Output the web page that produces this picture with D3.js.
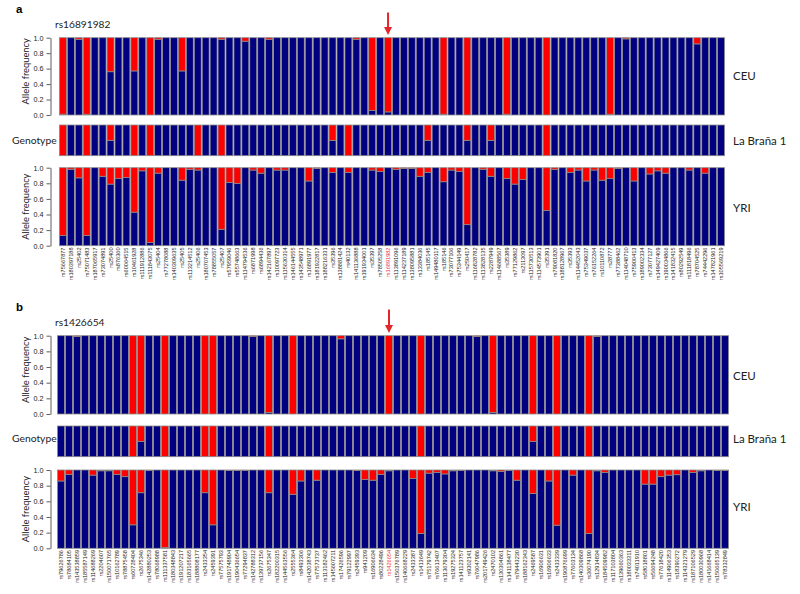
<!DOCTYPE html>
<html><head><meta charset="utf-8">
<script src="https://cdn.jsdelivr.net/npm/d3@7"></script>
<style>body{margin:0;background:#fff}svg{display:block}</style>
</head><body>
<script>
// ---------------- DATA ----------------
const labelsA = [
"rs75667877","rs180397188","rs25402","rs75071483","rs187065917","rs73074891","rs25400","rs876360","rs60064515","rs10461928",
"rs111912886","rs111843075","rs25404","rs77278088","rs140309635","rs25405","rs113214512","rs25406","rs180707453","rs78855057",
"rs25407","rs57959046","rs55748663","rs114794536","rs6871998","rs6894436","rs142167897","rs10097723","rs115630314","rs146144555",
"rs143548971","rs16891977","rs181922817","rs188216331","rs35396","rs138881424","rs40132","rs141136888","rs191934001","rs35397",
"rs78505258","rs16891982","rs113891096","rs114237189","rs138095881","rs13384036","rs185145","rs149480117","rs185146","rs73077106",
"rs75344149","rs250417","rs116828782","rs113828135","rs2287949","rs114688567","rs35389","rs77129862","rs2113097","rs115730513",
"rs114573901","rs35391","rs79081820","rs188128967","rs35393","rs114452043","rs75349037","rs76152264","rs10110872","rs28777",
"rs77388462","rs114048710","rs75900413","rs189002334","rs73077127","rs149427409","rs190034866","rs141832415","rs80292549","rs111818496",
"rs78704525","rs74442296","rs147821961","rs105569219"];
const ceuA = [
0.01,1,0.98,0.01,1,1,0.56,1,1,0.57,
1,0,0.98,1,1,0.57,1,1,1,1,
0.98,1,1,0.955,1,1,0.98,1,1,1,
1,1,1,1,1,1,1,0.98,1,0.06,
1,0.04,1,1,1,1,1,1,0.01,1,
1,0,1,1,1,1,0.01,1,1,1,
1,0,1,1,1,1,1,1,1,0.01,
1,0.985,1,1,1,1,1,1,1,1,
0.92,1,1,1];
const genoA = [
0,1,1,0,1,1,0.5,1,1,0,
1,0,1,1,1,1,1,0,1,1,
0,1,1,1,1,1,1,1,1,1,
1,1,1,1,0.5,1,0,1,1,1,
1,1,1,1,1,1,0.5,1,1,1,
1,0.5,1,1,0.5,1,1,1,1,1,
1,0,1,1,1,1,1,1,1,1,
1,1,1,1,1,1,1,1,1,1,
1,1,1,1];
const yriA = [
0.13,0.98,0.87,0.13,1,0.89,0.79,0.86,0.875,0.43,
0.96,0.04,0.93,1,1,0.84,0.98,0.97,1,1,
0.21,0.81,0.80,1,0.97,0.93,1,0.97,0.97,1,
1,0.83,0.99,1,0.94,1,0.94,1,1,0.97,
0.95,1,0.98,0.99,0.99,0.89,0.94,1,0.82,0.97,
0.95,0.27,1,0.98,0.89,1,0.86,0.79,0.85,1,
1,0.45,0.98,1,0.94,0.97,0.83,0.97,0.84,0.86,
0.99,1,0.83,1,0.92,0.96,0.93,1,1,0.97,
1,0.93,1,1];

const labelsB = [
"rs79626786","rs78684105","rs143538859","rs185587149","rs114688269","rs2204607","rs150071765","rs10162789","rs78875458","rs60728404",
"rs2675346","rs142880253","rs78068988","rs111337581","rs180348843","rs191207217","rs183165665","rs188808177","rs2433354","rs2459391",
"rs77575793","rs191748904","rs190436654","rs77294837","rs142788312","rs139737156","rs2675347","rs182200315","rs144563556","rs2555364",
"rs8493306","rs142038743","rs77573737","rs113182462","rs145607211","rs17426596","rs79122997","rs2459393","rs941209","rs16906634",
"rs80228496","rs1426654","rs150376789","rs140668229","rs2433387","rs1413649","rs75179742","rs76613407","rs113679304","rs19275324",
"rs141123757","rs9302141","rs76047986","rs201749426","rs2470102","rs130304861","rs141138477","rs79443230","rs188162343","rs2469587",
"rs16906631","rs16906633","rs2433339","rs190876699","rs77603134","rs140309868","rs36074190","rs12914834","rs184509982","rs117103804",
"rs139660363","rs180033311","rs74011910","rs58018801","rs56694248","rs77618420","rs114906353","rs18390272","rs114321279","rs187106529",
"rs180030968","rs141668414","rs150665139","rs78332849"];
const ceuB = [
1,1,0.99,1,1,1,1,1,1,0,
0,1,1,0,1,1,1,1,0,0,
1,1,1,1,0.99,1,0.02,1,1,0,
1,1,1,1,1,0.96,1,1,1,1,
1,0,1,1,1,0,1,1,1,1,
1,1,0.99,1,0.02,1,1,1,1,0,
1,1,0,1,1,1,0,0.99,1,1,
1,1,1,1,1,1,1,1,1,1,
1,1,1,1];
const genoB = [
1,1,1,1,1,1,1,1,1,0,
0.5,1,1,0,1,1,1,1,0,0,
1,1,1,1,1,1,0,1,1,1,
1,1,1,1,1,1,1,1,1,1,
1,1,1,1,1,0,1,1,1,1,
1,1,1,1,1,1,1,1,1,0.5,
1,1,0,1,1,1,0,1,1,1,
1,1,1,1,1,1,1,1,1,1,
1,1,1,1];
const yriB = [
0.86,0.945,1,1,0.935,0.99,0.99,0.945,0.915,0.30,
0.71,0.995,1,0.01,1,1,1,1,0.71,0.30,
1,0.995,0.995,0.995,1,1,0.71,1,1,0.69,
0.86,1,0.87,1,1,1,1,0.995,0.88,0.87,
0.945,0.99,1,1,0.89,0.19,0.96,0.97,0.95,0.99,
0.995,1,1,1,0.99,0.98,0.995,0.87,1,0.70,
1,0.86,0.295,1,0.935,1,0.19,0.99,0.97,1,
1,1,1,0.82,0.82,0.915,0.935,0.94,1,0.97,
0.99,1,0.995,0.995];

const yTicks = [0, 0.2, 0.4, 0.6, 0.8, 1.0];
const panelLetters = ["a", "b"];
const panelTitles = ["rs16891982", "rs1426654"];
const rowNames = ["CEU", "La Braña 1", "YRI"];

// ---------------- STYLE / LAYOUT ----------------
const BLUE = "#000080", RED = "#ff0000", GAP = "#8a8a8a", HILITE = "#e8303a";
const layouts = [
  {x0:59, x1:725, letterY:12.7, titleY:28.3, arrow:[12.5,35], ceu:[115,37.7], geno:[155.7,125], yri:[245.7,167.7], lab:247.5,
   ceuTxt:80, genoTxt:145, yriTxt:211.7},
  {x0:57, x1:729, letterY:310.7, titleY:325.5, arrow:[309.5,333], ceu:[414,335.7], geno:[456.7,426], yri:[548.3,470], lab:550,
   ceuTxt:379.5, genoTxt:442.5, yriTxt:511}
];
const dataSets = [
  {labels:labelsA, ceu:ceuA, geno:genoA, yri:yriA, hi:"rs16891982"},
  {labels:labelsB, ceu:ceuB, geno:genoB, yri:yriB, hi:"rs1426654"}
];

const svg = d3.select("body").append("svg").attr("width",800).attr("height",594)
  .style("font-family","Lato, 'Open Sans', sans-serif");
svg.append("rect").attr("width",800).attr("height",594).attr("fill","#fff");

function drawBars(g, x, y, labels, vals){
  const bw = x.bandwidth();
  const sel = g.selectAll("g.bar").data(labels.map((l,i)=>({l, v:vals[i]}))).join("g").attr("class","bar");
  sel.append("rect")
    .attr("x", d=>x(d.l)+0.5).attr("width", bw-1)
    .attr("y", d=>y(d.v)).attr("height", d=>y(0)-y(d.v))
    .attr("fill", BLUE).attr("stroke", GAP).attr("stroke-width",0.8);
  sel.append("rect")
    .attr("x", d=>x(d.l)+0.5).attr("width", bw-1)
    .attr("y", y(1)).attr("height", d=>y(d.v)-y(1))
    .attr("fill", RED).attr("stroke", GAP).attr("stroke-width",0.8);
}

function drawAxis(g, y){
  const ax = g.append("g").attr("transform","translate(50.5,0)")
    .call(d3.axisLeft(y).tickValues(yTicks).tickFormat(d3.format(".1f")).tickSize(4).tickSizeOuter(0).tickPadding(3));
  ax.select(".domain").attr("stroke","#333").attr("stroke-width",0.8);
  ax.selectAll(".tick line").attr("stroke","#333").attr("stroke-width",0.8);
  ax.selectAll(".tick text").attr("font-family","Liberation Sans, Arial, sans-serif").attr("font-size",7.2).attr("fill","#222");
  const [b,t] = y.range();
}

layouts.forEach((L, p) => {
  const D = dataSets[p];
  const g = svg.append("g");
  const x = d3.scaleBand().domain(D.labels).range([L.x0, L.x1]).padding(0);
  const yC = d3.scaleLinear().domain([0,1]).range(L.ceu);
  const yG = d3.scaleLinear().domain([0,1]).range(L.geno);
  const yY = d3.scaleLinear().domain([0,1]).range(L.yri);

  // letter & title
  g.append("text").attr("x",16).attr("y",L.letterY).text(panelLetters[p])
    .attr("font-family","Liberation Sans, Arial, sans-serif").attr("font-weight","bold").attr("font-size",11.5);
  g.append("text").attr("x",55).attr("y",L.titleY).text(panelTitles[p]).attr("font-size",10.2).attr("fill","#222");

  // arrow above highlighted SNP
  const ax = x(D.hi) + x.bandwidth()/2;
  g.append("line").attr("x1",ax).attr("x2",ax).attr("y1",L.arrow[0]).attr("y2",L.arrow[1]-6)
    .attr("stroke","#e3262d").attr("stroke-width",2);
  g.append("path").attr("d",`M${ax-4},${L.arrow[1]-8} L${ax+4},${L.arrow[1]-8} L${ax},${L.arrow[1]} Z`).attr("fill","#e3262d");

  drawBars(g.append("g"), x, yC, D.labels, D.ceu);
  drawBars(g.append("g"), x, yG, D.labels, D.geno);
  drawBars(g.append("g"), x, yY, D.labels, D.yri);
  drawAxis(g, yC);
  drawAxis(g, yY);

  // y labels
  [[yC,-5],[yY,0]].forEach(([ys,off])=>{
    const c = (ys.range()[0]+ys.range()[1])/2 + off;
    g.append("text").attr("transform",`translate(28.5,${c}) rotate(-90)`).attr("text-anchor","middle")
      .attr("font-size",9.3).attr("fill","#222").text("Allele frequency");
  });
  g.append("text").attr("x",12).attr("y",L.genoTxt-1).attr("font-size",10.3).attr("fill","#222").text("Genotype");

  // row names right
  g.append("text").attr("x",733).attr("y",L.ceuTxt).attr("font-size",11.5).attr("fill","#222").text(rowNames[0]);
  g.append("text").attr("x",733).attr("y",L.genoTxt).attr("font-size",11.5).attr("fill","#222").text(rowNames[1]);
  g.append("text").attr("x",733).attr("y",L.yriTxt).attr("font-size",11.5).attr("fill","#222").text(rowNames[2]);

  // SNP labels
  g.append("g").selectAll("text").data(D.labels).join("text")
    .attr("transform", d=>`translate(${x(d)+x.bandwidth()/2},${L.lab}) rotate(-90)`)
    .attr("text-anchor","end").attr("dy","0.35em")
    .attr("font-family","Liberation Sans, Arial, sans-serif").attr("font-size",5.6)
    .attr("fill", d=> d===D.hi ? HILITE : "#222").text(d=>d);
});
</script>
</body></html>
